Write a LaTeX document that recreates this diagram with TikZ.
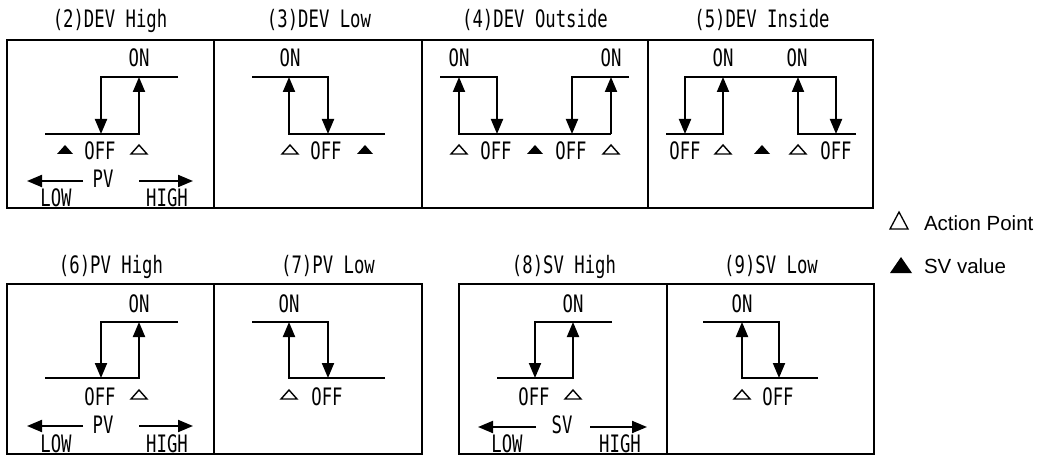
\documentclass[tikz,border=0pt]{standalone}
\usepackage{fontspec}
\usepackage{tikz}
\usetikzlibrary{arrows.meta}
\newfontfamily\gothicfont{DejaVu Sans Mono}[FakeStretch=0.72]
\newfontfamily\legendfont{Liberation Sans}
\tikzset{every picture/.append style={font=\gothicfont\fontsize{24}{26}\selectfont}}
\tikzset{
  lbl/.style={anchor=base,inner sep=0pt},
  steparr/.style={-{Triangle[length=15pt,width=12pt]}},
  actpt/.pic={\draw[line width=1.4pt] (-8,4) -- (8,4) -- (0,-5) -- cycle;},
  svpt/.pic={\fill (-8,4) -- (8,4) -- (0,-5) -- cycle;}
}

\begin{document}
\begin{tikzpicture}[x=1pt,y=-1pt,line width=2pt]
    \useasboundingbox (0,0) rectangle (1040,457);
    % frames
    \draw (7,40) rectangle (873,208);
    \foreach \x in {214,422,648} {\draw (\x,40) -- (\x,208);}
    \draw (7,284) rectangle (422,454);
    \draw (214,284) -- (214,454);
    \draw (459,284) rectangle (874,454);
    \draw (667,284) -- (667,454);
    % titles
    \foreach \n/\x/\y/\txt in {t2/110/28/{(2)DEV High},t3/319/28/{(3)DEV Low},t4/535/28/{(4)DEV Outside},t5/762/28/{(5)DEV Inside},
      t6/111/273/{(6)PV High},t7/328/273/{(7)PV Low},t8/564/273/{(8)SV High},t9/771/273/{(9)SV Low}} {
      \node[lbl] (\n) at (\x,\y) {\txt};
    }
    % ON / OFF
    \foreach \n/\x/\y in {on2/139/67,on3/290/67,on4a/459/67,on4b/611/67,on5a/723/67,on5b/797/67,
      on6/139/312,on7/289/312,on8/573/312,on9/742/312} {
      \node[lbl] (\n) at (\x,\y) {ON};
    }
    \foreach \n/\x/\y in {off2/100/160,off3/326/160,off4a/496/160,off4b/571/160,off5a/685/160,off5b/836/160,
      off6/100/405,off7/327/405,off8/534/405,off9/778/405} {
      \node[lbl] (\n) at (\x,\y) {OFF};
    }
    % action points and SV values
    \foreach \x/\y in {139/150,290/150,459/150,611/150,723/150,798/150,139/395,289/395,573/395,742/395} {
      \pic at (\x,\y) {actpt};
    }
    \foreach \x in {65,365,535,762} {\pic at (\x,150) {svpt};}
    % (2) DEV High
    \draw[steparr] (178,77) -- (101,77) -- (101,134);
    \draw[steparr] (45,134) -- (139,134) -- (139,77);
    % (3) DEV Low
    \draw[steparr] (252,77) -- (328,77) -- (328,134);
    \draw[steparr] (385,134) -- (289,134) -- (289,77);
    % (4) DEV Outside
    \draw[steparr] (440,77) -- (497,77) -- (497,134);
    \draw[steparr] (629,77) -- (572,77) -- (572,134);
    \draw[steparr] (611,134) -- (459,134) -- (459,77);
    \draw[steparr] (611,134) -- (611,77);
    % (5) DEV Inside
    \draw[steparr] (760,77) -- (685,77) -- (685,134);
    \draw[steparr] (760,77) -- (836,77) -- (836,134);
    \draw[steparr] (666,134) -- (723,134) -- (723,77);
    \draw[steparr] (856,134) -- (798,134) -- (798,77);
    % (6) PV High
    \draw[steparr] (178,322) -- (101,322) -- (101,378);
    \draw[steparr] (45,378) -- (139,378) -- (139,322);
    % (7) PV Low
    \draw[steparr] (252,322) -- (328,322) -- (328,378);
    \draw[steparr] (385,378) -- (289,378) -- (289,322);
    % (8) SV High
    \draw[steparr] (612,322) -- (535,322) -- (535,378);
    \draw[steparr] (497,378) -- (573,378) -- (573,322);
    % (9) SV Low
    \draw[steparr] (703,322) -- (779,322) -- (779,378);
    \draw[steparr] (818,378) -- (742,378) -- (742,322);
    % PV / SV axes
    \node[lbl] (pv2) at (103,187) {PV};
    \node[lbl] (pv6) at (103,433) {PV};
    \node[lbl] (sv8) at (562,433) {SV};
    \foreach \n/\x/\y in {lo2/56/206,lo6/56/452,lo8/507/452} {\node[lbl] (\n) at (\x,\y) {LOW};}
    \foreach \n/\x/\y in {hi2/167/206,hi6/167/452,hi8/620/452} {\node[lbl] (\n) at (\x,\y) {HIGH};}
    \draw[steparr] (83,181) -- (27,181);
    \draw[steparr] (139,181) -- (193,181);
    \draw[steparr] (83,426) -- (27,426);
    \draw[steparr] (139,426) -- (193,426);
    \draw[steparr] (536,427) -- (478,427);
    \draw[steparr] (590,427) -- (647,427);
    % legend
    \draw[line width=1.3pt] (890,229) -- (908,229) -- (899,212) -- cycle;
    \fill (890,273) -- (912,273) -- (901,257) -- cycle;
    \node[lbl,anchor=base west,font=\legendfont\fontsize{20.5}{22}\selectfont] (leg1) at (923,230) {Action Point};
    \node[lbl,anchor=base west,font=\legendfont\fontsize{20.5}{22}\selectfont] (leg2) at (923,273) {SV value};
  \end{tikzpicture}
\end{document}
